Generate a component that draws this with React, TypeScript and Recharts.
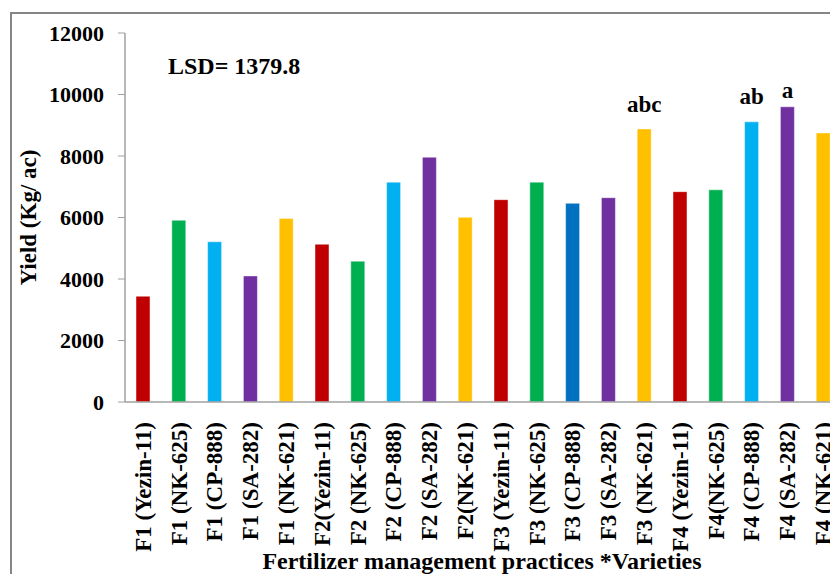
import React from 'react';
import { BarChart, Bar, XAxis, YAxis, Cell, LabelList } from 'recharts';

const categories = [
  'F1 (Yezin-11)', 'F1 (NK-625)', 'F1 (CP-888)', 'F1 (SA-282)', 'F1 (NK-621)',
  'F2(Yezin-11)', 'F2 (NK-625)', 'F2 (CP-888)', 'F2 (SA-282)', 'F2(NK-621)',
  'F3 (Yezin-11)', 'F3 (NK-625)', 'F3 (CP-888)', 'F3 (SA-282)', 'F3 (NK-621)',
  'F4 (Yezin-11)', 'F4(NK-625)', 'F4 (CP-888)', 'F4 (SA-282)', 'F4 (NK-621)',
];
const yields = [
  3440, 5910, 5210, 4100, 5970,
  5130, 4580, 7150, 7960, 6005,
  6580, 7150, 6460, 6645, 8880,
  6840, 6900, 9110, 9600, 8750,
];
const letters = ['', '', '', '', '', '', '', '', '', '', '', '', '', '', 'abc', '', '', 'ab', 'a', ''];
const barColors = [
  '#C00000', '#00B050', '#00B0F0', '#7030A0', '#FFC000',
  '#C00000', '#00B050', '#00B0F0', '#7030A0', '#FFC000',
  '#C00000', '#00B050', '#0070C0', '#7030A0', '#FFC000',
  '#C00000', '#00B050', '#00B0F0', '#7030A0', '#FFC000',
];
const yTicks = [0, 2000, 4000, 6000, 8000, 10000, 12000];
const lsdText = 'LSD= 1379.8';
const xTitle = 'Fertilizer management practices *Varieties';
const yTitle = 'Yield (Kg/ ac)';

const data = categories.map((name, i) => ({ name, value: yields[i], letter: letters[i] }));

const FONT = '"Liberation Serif", "Times New Roman", serif';
const AXIS = '#a0a0a0';
const letterLift: Record<number, number> = { 14: 17, 17: 18, 18: 9 };

const XTick = (props: any) => {
  const { x, y, payload } = props;
  return (
    <text
      x={x}
      y={y + 12}
      transform={`rotate(-90, ${x}, ${y + 12})`}
      textAnchor="end"
      dy="0.34em"
      fontFamily={FONT}
      fontWeight="bold"
      fontSize={23}
      fill="#000"
    >
      {payload.value}
    </text>
  );
};

const LetterLabel = (props: any) => {
  const { x, y, width, index, value } = props;
  if (!value) return null;
  const lift = letterLift[index] ?? 12;
  return (
    <text
      x={x + width / 2}
      y={y - lift}
      textAnchor="middle"
      fontFamily={FONT}
      fontWeight="bold"
      fontSize={23}
      fill="#000"
    >
      {value}
    </text>
  );
};

export default function App() {
  return (
    <div style={{ position: 'relative', width: 830, height: 566, overflow: 'hidden', background: '#fff' }}>
      <BarChart
        width={845}
        height={566}
        data={data}
        margin={{ top: 25, right: 12, bottom: 0, left: 0 }}
        style={{ fontFamily: FONT }}
      >
        <XAxis
          dataKey="name"
          interval={0}
          tickLine={false}
          axisLine={{ stroke: AXIS, strokeWidth: 1.5 }}
          height={172}
          tick={<XTick />}
          label={(p: any) => {
            const vb = p.viewBox;
            return (
              <text
                x={vb.x + vb.width / 2 - 1}
                y={561}
                textAnchor="middle"
                fontFamily={FONT}
                fontWeight="bold"
                fontSize={24}
                fill="#000"
              >
                {xTitle}
              </text>
            );
          }}
        />
        <YAxis
          domain={[0, 12000]}
          ticks={yTicks}
          interval={0}
          width={117}
          tickSize={7}
          tickMargin={14}
          tickLine={{ stroke: AXIS, strokeWidth: 1 }}
          axisLine={{ stroke: AXIS, strokeWidth: 1.5 }}
          tick={{ fontFamily: FONT, fontWeight: 'bold', fontSize: 22, fill: '#000' }}
          label={(p: any) => {
            const vb = p.viewBox;
            const cx = 20;
            const cy = vb.y + vb.height / 2;
            return (
              <text
                x={cx}
                y={cy}
                transform={`rotate(-90, ${cx}, ${cy})`}
                textAnchor="middle"
                dy="0.35em"
                fontFamily={FONT}
                fontWeight="bold"
                fontSize={23}
                fill="#000"
              >
                {yTitle}
              </text>
            );
          }}
        />
        <Bar dataKey="value" barSize={14} isAnimationActive={false} stroke="#ffffff" strokeOpacity={0.45} strokeWidth={1}>
          {data.map((d, i) => (
            <Cell key={d.name} fill={barColors[i]} />
          ))}
          <LabelList dataKey="letter" content={<LetterLabel />} />
        </Bar>
      </BarChart>
      <svg
        width={830}
        height={566}
        style={{ position: 'absolute', left: 0, top: 0, pointerEvents: 'none' }}
      >
        <line x1={3} y1={5} x2={830} y2={5} stroke="#858585" strokeWidth={2} />
        <line x1={3} y1={4} x2={3} y2={566} stroke="#858585" strokeWidth={2} />
        <text x={160} y={66} fontFamily={FONT} fontWeight="bold" fontSize={24} fill="#000">
          {lsdText}
        </text>
      </svg>
    </div>
  );
}
